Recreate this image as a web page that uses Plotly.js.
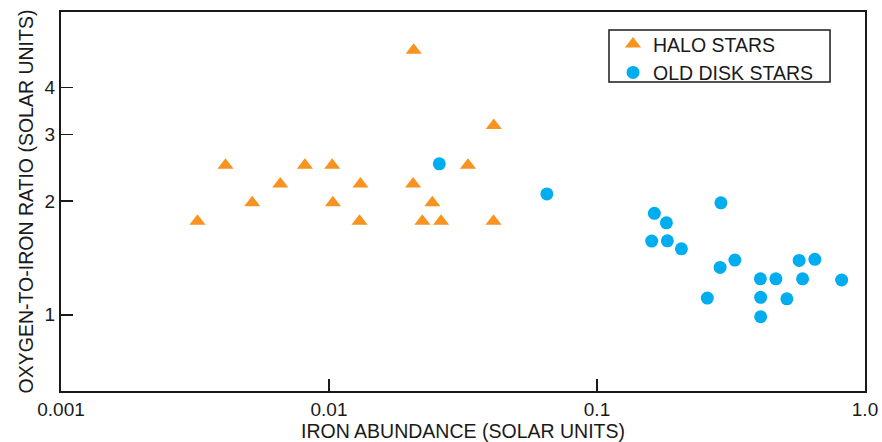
<!DOCTYPE html>
<html>
<head>
<meta charset="utf-8">
<script src="https://cdn.plot.ly/plotly-3.0.1.min.js"></script>
<style>html,body{margin:0;padding:0;background:#fff;}#chart{width:882px;height:442px;}</style>
</head>
<body>
<div id="chart"></div>
<script>
// Halo stars (triangles)
const haloIron = [0.00323, 0.00411, 0.00517, 0.00658, 0.00813, 0.01028, 0.01034, 0.0131, 0.0130, 0.0207, 0.0206, 0.0223, 0.0243, 0.0262, 0.0330, 0.0412, 0.0411];
const haloRatio = [1.77, 2.49, 1.98, 2.22, 2.49, 2.49, 1.98, 2.22, 1.77, 5.02, 2.22, 1.77, 1.98, 1.77, 2.49, 3.17, 1.77];

// Old disk stars (circles)
const diskIron = [0.0258, 0.0650, 0.1637, 0.1815, 0.290, 0.160, 0.183, 0.2065, 0.327, 0.288, 0.568, 0.650, 0.407, 0.465, 0.585, 0.818, 0.258, 0.408, 0.511, 0.408];
const diskRatio = [2.51, 2.09, 1.856, 1.752, 1.979, 1.567, 1.570, 1.495, 1.396, 1.335, 1.393, 1.402, 1.245, 1.245, 1.245, 1.236, 1.107, 1.112, 1.102, 0.988];

const seriesNames = ['HALO STARS', 'OLD DISK STARS'];
const xTickVals = [0.001, 0.01, 0.1, 1];
const xTickText = ['0.001', '0.01', '0.1', '1.0'];
const yTickVals = [1, 2, 3, 4];
const yTickText = ['1', '2', '3', '4'];
const xTitle = 'IRON ABUNDANCE (SOLAR UNITS)';
const yTitle = 'OXYGEN-TO-IRON RATIO (SOLAR UNITS)';

const fontFam = 'Arial, "Liberation Sans", Helvetica, sans-serif';
const ink = '#1a1a1a';

const traces = [
  {
    x: haloIron, y: haloRatio, name: seriesNames[0], type: 'scatter', mode: 'markers',
    marker: {symbol: 'triangle-up', size: 14, color: '#F7931E', line: {width: 0}}
  },
  {
    x: diskIron, y: diskRatio, name: seriesNames[1], type: 'scatter', mode: 'markers',
    marker: {symbol: 'circle', size: 13, color: '#00AEEF', line: {width: 0}}
  }
];

const layout = {
  width: 882, height: 442,
  margin: {l: 61, r: 17, t: 12, b: 51, pad: 0},
  paper_bgcolor: '#fff', plot_bgcolor: '#fff',
  font: {family: fontFam, size: 19, color: ink},
  showlegend: true,
  legend: {
    x: 0.6866, y: 0.966, xanchor: 'left', yanchor: 'top',
    bgcolor: 'rgba(0,0,0,0)', borderwidth: 0,
    font: {family: fontFam, size: 19.5, color: ink},
    tracegroupgap: 0
  },
  shapes: [
    {type: 'rect', xref: 'paper', yref: 'paper', x0: 0.6816, x1: 0.9565, y0: 0.8153, y1: 0.9525,
     line: {color: ink, width: 1.5}, fillcolor: 'rgba(0,0,0,0)', layer: 'above'}
  ],
  xaxis: {
    type: 'log', range: [-3, 0],
    tickmode: 'array', tickvals: xTickVals, ticktext: xTickText,
    ticks: 'inside', ticklen: 12, tickwidth: 1.5, tickcolor: ink,
    showline: true, linecolor: ink, linewidth: 2, mirror: true,
    showgrid: false, zeroline: false,
    tickfont: {family: fontFam, size: 19, color: ink},
    title: {text: xTitle, font: {family: fontFam, size: 19.5, color: ink}, standoff: 6}
  },
  yaxis: {
    type: 'log', range: [-0.202, 0.802],
    tickmode: 'array', tickvals: yTickVals, ticktext: yTickText,
    ticks: 'inside', ticklen: 12, tickwidth: 1.5, tickcolor: ink,
    showline: true, linecolor: ink, linewidth: 2, mirror: true,
    showgrid: false, zeroline: false,
    tickfont: {family: fontFam, size: 19, color: ink},
    title: {text: yTitle, font: {family: fontFam, size: 19.5, color: ink}, standoff: 6}
  }
};

Plotly.newPlot('chart', traces, layout, {displayModeBar: false, staticPlot: true});
</script>
</body>
</html>
